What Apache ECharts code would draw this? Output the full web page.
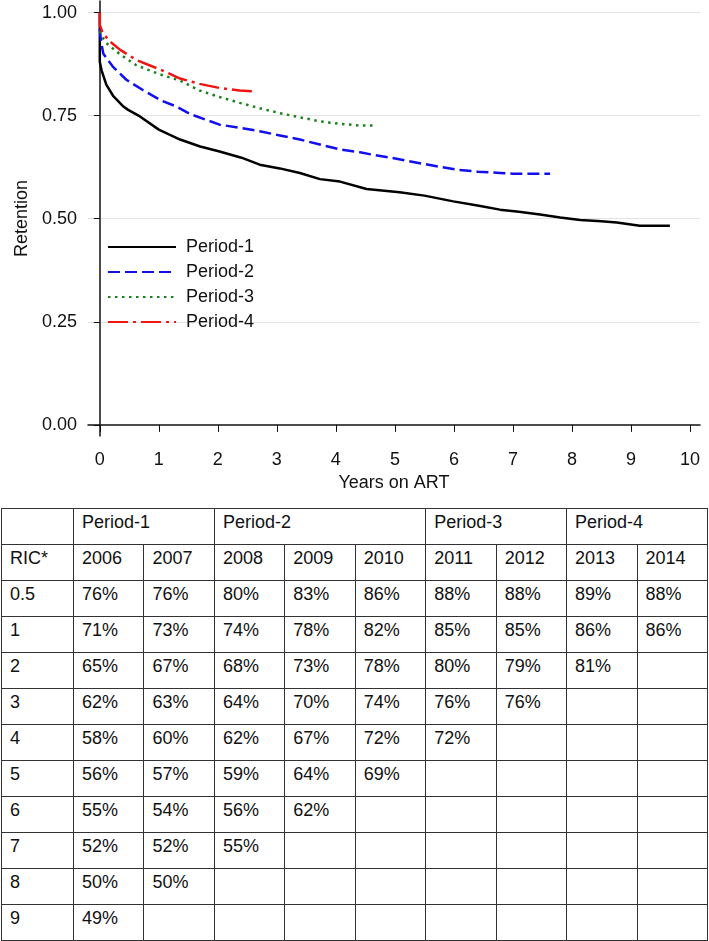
<!DOCTYPE html>
<html>
<head>
<meta charset="utf-8">
<script src="https://cdn.jsdelivr.net/npm/echarts@6/dist/echarts.min.js"></script>
<style>
  body { margin: 0; background: #fff; }
  #chart { position: absolute; left: 0; top: 0; width: 709px; height: 500px; }
  #tbl {
    position: absolute; left: 1px; top: 508px; width: 707px;
    border-collapse: collapse; table-layout: fixed;
    font-family: "Liberation Sans", Arial, Helvetica, sans-serif; font-size: 18px; color: #111;
  }
  #tbl td {
    border: 1px solid #333; height: 35px; padding: 4px 0 0 8px;
    line-height: 18px; vertical-align: top; box-sizing: border-box;
    white-space: nowrap;
  }
  #tbl tr { height: 36px; }
</style>
</head>
<body>
<div id="chart"></div>
<table id="tbl"></table>
<script>
// survival curves: years on ART and retention
const p1Years = [0, 0, 0.03, 0.11, 0.23, 0.4, 0.48, 0.68, 1.0, 1.36, 1.7, 2.03, 2.4, 2.71, 3.05, 3.39, 3.73, 4.07, 4.52, 5.08, 5.5, 5.99, 6.4, 6.78, 7.1, 7.46, 7.8, 8.14, 8.5, 8.76, 9.15, 9.66]
const p1Ret = [1.0, 0.88, 0.86, 0.825, 0.797, 0.772, 0.764, 0.748, 0.716, 0.692, 0.675, 0.663, 0.648, 0.631, 0.622, 0.611, 0.596, 0.59, 0.572, 0.564, 0.556, 0.542, 0.532, 0.522, 0.517, 0.51, 0.503, 0.497, 0.494, 0.491, 0.483, 0.483]

const p2Years = [0, 0.02, 0.06, 0.22, 0.45, 0.73, 1.05, 1.3, 1.53, 2.03, 2.4, 2.71, 3.05, 3.39, 3.73, 4.07, 4.41, 4.63, 5.05, 5.48, 6.04, 6.4, 6.78, 7.0, 7.63]
const p2Ret = [0.96, 0.93, 0.9, 0.869, 0.837, 0.812, 0.786, 0.772, 0.754, 0.728, 0.72, 0.712, 0.702, 0.692, 0.68, 0.668, 0.661, 0.655, 0.645, 0.633, 0.619, 0.614, 0.611, 0.609, 0.609]

const p3Years = [0, 0.02, 0.11, 0.34, 0.62, 1.02, 1.36, 1.69, 2.03, 2.37, 2.71, 3.05, 3.39, 3.73, 4.07, 4.41, 4.63]
const p3Ret = [0.955, 0.945, 0.926, 0.899, 0.872, 0.85, 0.835, 0.811, 0.795, 0.781, 0.768, 0.756, 0.746, 0.736, 0.73, 0.726, 0.726]

const p4Years = [0, 0, 0.05, 0.17, 0.34, 0.62, 1.02, 1.36, 1.69, 2.03, 2.37, 2.66]
const p4Ret = [1.0, 0.97, 0.95, 0.93, 0.91, 0.885, 0.862, 0.84, 0.827, 0.817, 0.811, 0.808]

const seriesNames = ['Period-1', 'Period-2', 'Period-3', 'Period-4']
const yTicks = [0, 0.25, 0.5, 0.75, 1]
const xTicks = [0, 1, 2, 3, 4, 5, 6, 7, 8, 9, 10]

// table below the chart
const tablePeriods = ['Period-1', 'Period-2', 'Period-3', 'Period-4']
const periodSpans = [2, 3, 2, 2]
const tableYears = ['2006', '2007', '2008', '2009', '2010', '2011', '2012', '2013', '2014']
const ricLabels = ['0.5', '1', '2', '3', '4', '5', '6', '7', '8', '9']
const ricValues = [
  ['76%', '76%', '80%', '83%', '86%', '88%', '88%', '89%', '88%'],
  ['71%', '73%', '74%', '78%', '82%', '85%', '85%', '86%', '86%'],
  ['65%', '67%', '68%', '73%', '78%', '80%', '79%', '81%', ''],
  ['62%', '63%', '64%', '70%', '74%', '76%', '76%', '', ''],
  ['58%', '60%', '62%', '67%', '72%', '72%', '', '', ''],
  ['56%', '57%', '59%', '64%', '69%', '', '', '', ''],
  ['55%', '54%', '56%', '62%', '', '', '', '', ''],
  ['52%', '52%', '55%', '', '', '', '', '', ''],
  ['50%', '50%', '', '', '', '', '', '', ''],
  ['49%', '', '', '', '', '', '', '', '']
]

const font = '"Liberation Sans", Arial, Helvetica, sans-serif'
const pair = (xs, ys) => xs.map((x, i) => [x, ys[i]])

const lineSeries = (name, data, color, type) => ({
  name,
  type: 'line',
  data,
  symbol: 'none',
  silent: true,
  lineStyle: { color, width: 2.5, type, cap: 'butt' },
  itemStyle: { color }
})

const chart = echarts.init(document.getElementById('chart'))
chart.setOption({
  animation: false,
  textStyle: { fontFamily: font },
  grid: { left: 88, top: 1, width: 612, height: 435 },
  legend: {
    orient: 'vertical',
    left: 107,
    top: 238,
    padding: 0,
    itemWidth: 68,
    itemHeight: 18,
    itemGap: 7,
    itemStyle: { opacity: 0 },
    textStyle: { fontSize: 18, color: '#111', lineHeight: 18, padding: [0, 0, 0, 5], fontFamily: font },
    data: seriesNames
  },
  xAxis: {
    type: 'value',
    min: -0.2,
    max: 10.17,
    name: 'Years on ART',
    nameLocation: 'middle',
    nameGap: 38,
    nameTextStyle: { fontSize: 18, color: '#111' },
    axisLine: { lineStyle: { color: '#111', width: 1.5 } },
    axisTick: { customValues: xTicks, length: 7, lineStyle: { color: '#111' } },
    axisLabel: { customValues: xTicks, fontSize: 18, color: '#111', margin: 15 },
    splitLine: { show: false }
  },
  yAxis: {
    type: 'value',
    min: -0.027,
    max: 1.028,
    name: 'Retention',
    nameLocation: 'middle',
    nameGap: 57,
    nameTextStyle: { fontSize: 18, color: '#111' },
    axisLine: { show: true, lineStyle: { color: '#111', width: 1.5 } },
    axisTick: { show: true, customValues: yTicks, length: 6, lineStyle: { color: '#111' } },
    axisLabel: { customValues: yTicks, fontSize: 18, color: '#111', margin: 11, formatter: v => v.toFixed(2) },
    splitLine: { show: true, lineStyle: { color: ['rgba(0,0,0,0)', '#e4e4e4', '#e4e4e4', '#e4e4e4', '#e4e4e4'], width: 1.2 } }
  },
  series: [
    lineSeries('Period-1', pair(p1Years, p1Ret), '#000000', 'solid'),
    lineSeries('Period-2', pair(p2Years, p2Ret), '#1010ee', [12, 5]),
    lineSeries('Period-3', pair(p3Years, p3Ret), '#1a821a', [2.5, 4.5]),
    lineSeries('Period-4', pair(p4Years, p4Ret), '#f01414', [20, 5, 3, 5])
  ]
})

// build the table from the arrays
const tbl = document.getElementById('tbl')
let html = '<colgroup><col style="width:72px">'
tableYears.forEach(() => { html += '<col>' })
html += '</colgroup>'
html += '<tr><td></td>'
tablePeriods.forEach((p, i) => { html += '<td colspan="' + periodSpans[i] + '">' + p + '</td>' })
html += '</tr><tr><td>RIC*</td>'
tableYears.forEach(y => { html += '<td>' + y + '</td>' })
html += '</tr>'
ricLabels.forEach((r, i) => {
  html += '<tr><td>' + r + '</td>'
  ricValues[i].forEach(v => { html += '<td>' + v + '</td>' })
  html += '</tr>'
})
tbl.innerHTML = html
</script>
</body>
</html>
